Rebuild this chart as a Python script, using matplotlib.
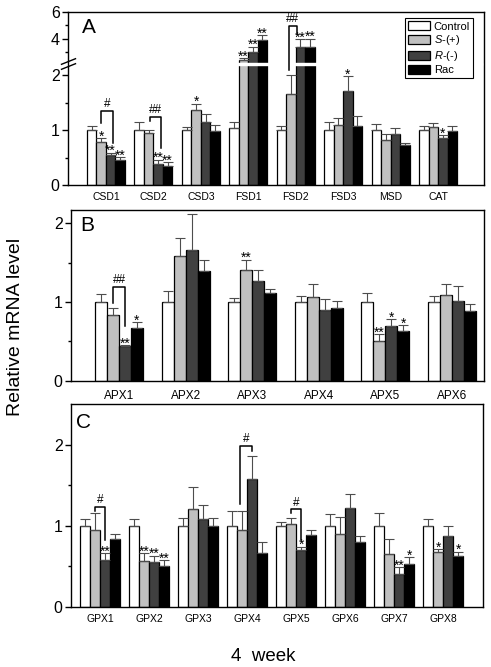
import numpy as np
import matplotlib
matplotlib.use("Agg")
import matplotlib.pyplot as plt

plt.rcParams['font.family'] = ['Liberation Sans', 'DejaVu Sans']
plt.rcParams['mathtext.fontset'] = 'custom'
plt.rcParams['mathtext.it'] = 'Liberation Sans:italic'
plt.rcParams['mathtext.rm'] = 'Liberation Sans'

series = ["Control", "$S$-(+)", "$R$-(-)", "Rac"]
colors = ["white", "#c0c0c0", "#404040", "black"]

# panel A: SOD / CAT
genes_A = ["CSD1", "CSD2", "CSD3", "FSD1", "FSD2", "FSD3", "MSD", "CAT"]
ctrl_A = [1.00, 1.00, 1.00, 1.04, 1.00, 1.00, 1.00, 1.00]
ctrl_A_err = [0.08, 0.15, 0.05, 0.10, 0.08, 0.14, 0.11, 0.07]
s_A = [0.78, 0.94, 1.37, 2.40, 1.66, 1.10, 0.82, 1.05]
s_A_err = [0.07, 0.06, 0.11, 0.17, 0.34, 0.12, 0.10, 0.07]
r_A = [0.55, 0.39, 1.15, 3.00, 3.38, 1.71, 0.93, 0.85]
r_A_err = [0.04, 0.07, 0.14, 0.40, 0.57, 0.27, 0.11, 0.06]
rac_A = [0.46, 0.35, 0.99, 3.88, 3.38, 1.07, 0.72, 0.99]
rac_A_err = [0.05, 0.06, 0.10, 0.37, 0.62, 0.19, 0.04, 0.08]
sig_s_A = ["*", "", "*", "**", "", "", "", ""]
sig_r_A = ["**", "**", "", "**", "**", "*", "", "*"]
sig_rac_A = ["**", "**", "", "**", "**", "", "", ""]

# panel B: APX
genes_B = ["APX1", "APX2", "APX3", "APX4", "APX5", "APX6"]
ctrl_B = [1.00, 1.00, 1.00, 1.00, 1.00, 1.00]
ctrl_B_err = [0.10, 0.14, 0.05, 0.08, 0.11, 0.08]
s_B = [0.83, 1.59, 1.41, 1.06, 0.51, 1.09]
s_B_err = [0.10, 0.23, 0.13, 0.17, 0.08, 0.14]
r_B = [0.44, 1.66, 1.27, 0.90, 0.70, 1.01]
r_B_err = [0.01, 0.46, 0.14, 0.14, 0.08, 0.20]
rac_B = [0.67, 1.39, 1.11, 0.93, 0.63, 0.89]
rac_B_err = [0.08, 0.14, 0.06, 0.08, 0.08, 0.08]
sig_s_B = ["", "", "**", "", "**", ""]
sig_r_B = ["**", "", "", "", "*", ""]
sig_rac_B = ["*", "", "", "", "*", ""]

# panel C: GPX
genes_C = ["GPX1", "GPX2", "GPX3", "GPX4", "GPX5", "GPX6", "GPX7", "GPX8"]
ctrl_C = [1.00, 1.00, 1.00, 1.00, 1.00, 1.00, 1.00, 1.00]
ctrl_C_err = [0.08, 0.08, 0.10, 0.18, 0.05, 0.14, 0.16, 0.08]
s_C = [0.94, 0.56, 1.21, 0.94, 1.02, 0.90, 0.65, 0.67]
s_C_err = [0.21, 0.10, 0.27, 0.24, 0.07, 0.21, 0.19, 0.04]
r_C = [0.58, 0.55, 1.08, 1.58, 0.70, 1.22, 0.40, 0.87]
r_C_err = [0.08, 0.08, 0.17, 0.28, 0.04, 0.17, 0.09, 0.13]
rac_C = [0.83, 0.50, 1.00, 0.66, 0.89, 0.80, 0.53, 0.62]
rac_C_err = [0.07, 0.07, 0.09, 0.14, 0.05, 0.07, 0.08, 0.06]
sig_s_C = ["", "**", "", "", "", "", "", "*"]
sig_r_C = ["**", "**", "", "", "*", "", "**", ""]
sig_rac_C = ["", "**", "", "", "", "", "*", "*"]

# brackets: (group, left_bottom, top, right_bottom, label, dx_left, dx_right)
brk_A = [(0, 1.13, 1.345, 0.76, "#", 0, 0.04),
         (1, 1.16, 1.24, 0.67, "##", 0.03, 0.06),
         (4, 2.09, 4.95, 4.35, "##", -0.05, -0.08)]
brk_B = [(0, 0.99, 1.19, 0.70, "##", 0, 0)]
brk_C = [(0, 1.18, 1.23, 0.82, "#", 0, 0),
         (3, 1.27, 1.98, 1.92, "#", -0.05, 0),
         (4, 1.15, 1.20, 0.82, "#", 0, 0)]


# broken y axis for panel A
def fwd(v):
    v = np.asarray(v, dtype=float)
    return np.where(v <= 2.2, v, 2.224 + (v - 2.2) * 0.2424)


def inv(t):
    t = np.asarray(t, dtype=float)
    return np.where(t <= 2.2, t, np.where(t < 2.224, 2.2, 2.2 + (t - 2.224) / 0.2424))


def panel(ax, genes, vals, errs, sigs, brks, width, xlim, fs):
    x = np.arange(len(genes))
    for i in range(4):
        xi = x + (i - 1.5) * width
        ax.bar(xi, vals[i], width, color=colors[i], edgecolor="black",
               linewidth=0.9, zorder=2, label=series[i])
        ax.errorbar(xi, vals[i], yerr=[np.zeros(len(genes)), errs[i]], fmt="none",
                    ecolor="0.3", elinewidth=0.8, capsize=3.5, capthick=0.8, zorder=3)
        if sigs[i] is not None:
            for j, s in enumerate(sigs[i]):
                if s:
                    ax.annotate(s, (xi[j], vals[i][j] + errs[i][j]), xytext=(0, -4),
                                textcoords="offset points", ha="center", va="bottom",
                                fontsize=10, zorder=5)
    for g, lb, top, rb, lab, dl, dr in brks:
        xl = g - 0.5 * width + dl
        xr = g + 0.5 * width + dr
        ax.plot([xl, xl, xr, xr], [lb, top, top, rb], color="black", lw=1.1, zorder=5)
        ax.annotate(lab, ((xl + xr) / 2, top), xytext=(0, 0.5), textcoords="offset points",
                    ha="center", va="bottom", fontsize=8.5)
    ax.set_xticks(x)
    ax.set_xticklabels(genes, fontsize=fs)
    ax.set_xlim(*xlim)
    ax.tick_params(axis="x", length=0, pad=5)
    ax.tick_params(axis="y", which="major", direction="out", length=4, width=1,
                   labelsize=11.5, pad=2)
    ax.tick_params(axis="y", which="minor", direction="out", length=2.5, width=1)
    for sp in ax.spines.values():
        sp.set_linewidth(1.0)


fig = plt.figure(figsize=(4.91, 6.67), dpi=100)
axA = fig.add_axes([0.1385, 0.7226, 0.8473, 0.2594])
axB = fig.add_axes([0.1446, 0.4292, 0.8411, 0.2559])
axC = fig.add_axes([0.1446, 0.0904, 0.8391, 0.3039])

axA.set_yscale("function", functions=(fwd, inv))
panel(axA, genes_A,
      [ctrl_A, s_A, r_A, rac_A], [ctrl_A_err, s_A_err, r_A_err, rac_A_err],
      [None, sig_s_A, sig_r_A, sig_rac_A], brk_A, 0.2, (-0.8, 7.97), 7.5)
axA.set_ylim(0, 6)
axA.set_yticks([0, 1, 2, 4, 6])
axA.set_yticklabels(["0", "1", "2", "4", "6"])
axA.set_yticks([0.5, 1.5, 3, 5], minor=True)
axA.axhspan(2.185, 2.202, xmin=0.005, xmax=0.995, color="white", zorder=4)
yt = axA.get_yaxis_transform()
for yv in [2.17, 2.33]:
    axA.plot([0], [yv], transform=yt, marker=[(-1, -0.4), (1, 0.4)], markersize=11,
             color="black", mew=1.0, clip_on=False, zorder=6)
axA.legend(loc="upper right", bbox_to_anchor=(0.974, 0.965), fontsize=8,
           fancybox=False, edgecolor="black", framealpha=1, borderpad=0.3,
           handlelength=2.0, handleheight=0.85, handletextpad=0.3, labelspacing=0.15,
           borderaxespad=0).get_frame().set_linewidth(0.8)
axA.text(0.034, 0.965, "A", transform=axA.transAxes, fontsize=15, va="top", ha="left")

panel(axB, genes_B,
      [ctrl_B, s_B, r_B, rac_B], [ctrl_B_err, s_B_err, r_B_err, rac_B_err],
      [None, sig_s_B, sig_r_B, sig_rac_B], brk_B, 0.18, (-0.72, 5.48), 8.5)
axB.set_ylim(0, 2.17)
axB.set_yticks([0, 1, 2])
axB.set_yticks([0.5, 1.5], minor=True)
axB.tick_params(axis="x", pad=7)
axB.text(0.022, 0.965, "B", transform=axB.transAxes, fontsize=15, va="top", ha="left")

panel(axC, genes_C,
      [ctrl_C, s_C, r_C, rac_C], [ctrl_C_err, s_C_err, r_C_err, rac_C_err],
      [None, sig_s_C, sig_r_C, sig_rac_C], brk_C, 0.204, (-0.59, 7.81), 7.5)
axC.set_ylim(0, 2.5)
axC.set_yticks([0, 1, 2])
axC.set_yticks([0.5, 1.5], minor=True)
axC.text(0.012, 0.955, "C", transform=axC.transAxes, fontsize=15, va="top", ha="left")

fig.text(0.031, 0.51, "Relative mRNA level", rotation=90, fontsize=14,
         ha="center", va="center")
fig.text(0.537, 0.015, "4  week", fontsize=13.5, ha="center", va="center")

fig.savefig("out.png", dpi=100)
